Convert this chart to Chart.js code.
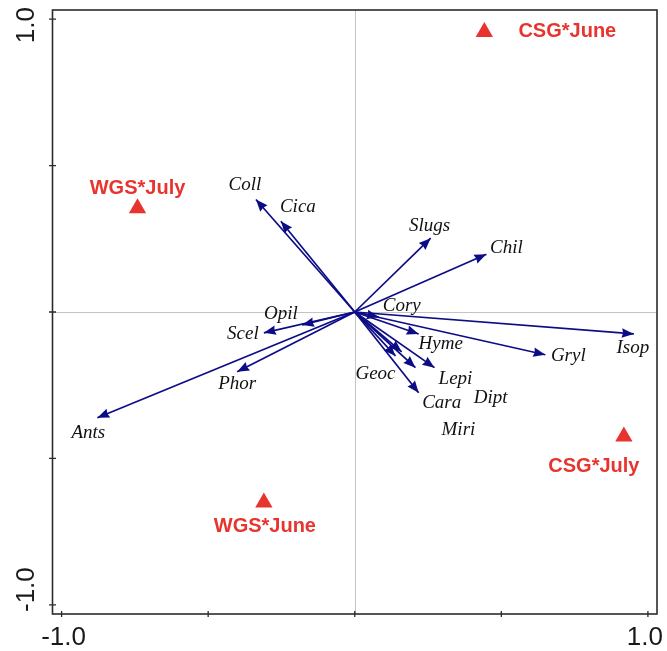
<!DOCTYPE html>
<html>
<head>
<meta charset="utf-8">
<script src="https://cdn.jsdelivr.net/npm/chart.js@4.4.1/dist/chart.umd.min.js"></script>
<style>
  html, body { margin: 0; padding: 0; background: #ffffff; }
  #wrap { width: 667px; height: 651px; }
</style>
</head>
<body>
<div id="wrap"><canvas id="biplot"></canvas></div>
<script>
// Species scores (arrow tips) on the first two ordination axes
const species = ['Coll', 'Cica', 'Slugs', 'Chil', 'Cory', 'Isop', 'Gryl', 'Hyme', 'Dipt',
                 'Geoc', 'Miri', 'Lepi', 'Cara', 'Opil', 'Scel', 'Phor', 'Ants'];
const speciesAxis1 = [-0.337, -0.252, 0.259, 0.449, 0.082, 0.952, 0.650, 0.218, 0.160,
                      0.139, 0.207, 0.272, 0.218, -0.180, -0.310, -0.401, -0.878];
const speciesAxis2 = [0.384, 0.310, 0.252, 0.197, -0.017, -0.075, -0.146, -0.075, -0.136,
                      -0.150, -0.190, -0.190, -0.276, -0.044, -0.071, -0.204, -0.361];

// Treatment centroids
const treatments = ['CSG*June', 'WGS*July', 'CSG*July', 'WGS*June'];
const treatAxis1 = [0.442, -0.741, 0.918, -0.310];
const treatAxis2 = [0.956, 0.354, -0.425, -0.650];

// Axis ticks
const tickValues = [-1.0, -0.5, 0, 0.5, 1.0];
const tickLabels = ['-1.0', '', '', '', '1.0'];

// Label placement relative to each mark (pixels)
const speciesLabelOffset = {
  Coll: [-11, -15], Cica: [17, -14], Slugs: [-1, -12], Chil: [20, -6], Cory: [23, -11],
  Isop: [-1, 14], Gryl: [23, 1], Hyme: [22, 10], Dipt: [89, 46], Geoc: [-20, 18],
  Miri: [43, 62], Lepi: [21, 11], Cara: [23, 10], Opil: [-21, -11], Scel: [-21, 1],
  Phor: [0, 12], Ants: [-9, 15]
};
const treatLabelOffset = {
  'CSG*June': [83, 0], 'WGS*July': [0, -20], 'CSG*July': [-30, 30], 'WGS*June': [1, 24]
};

const ARROW = '#0c0c86';
const RED = '#e8342e';
const AXIS_MIN = -1.031, AXIS_MAX = 1.031;

const arrowSets = species.map((name, i) => ({
  type: 'line',
  label: name,
  data: [{ x: 0, y: 0 }, { x: speciesAxis1[i], y: speciesAxis2[i] }],
  borderColor: ARROW,
  borderWidth: 1.7,
  pointRadius: 0,
  fill: false,
  order: 2
}));

const treatSet = {
  type: 'scatter',
  label: 'treatments',
  data: treatments.map((t, i) => ({ x: treatAxis1[i], y: treatAxis2[i] })),
  pointStyle: 'triangle',
  pointRadius: 10,
  backgroundColor: RED,
  borderColor: RED,
  borderWidth: 0,
  order: 1
};

// Frame, reference lines, ticks and tick labels
const framePlugin = {
  id: 'frame',
  beforeDatasetsDraw(chart) {
    const { ctx, chartArea: a, scales: { x, y } } = chart;
    ctx.save();
    ctx.strokeStyle = '#c4c4c4';
    ctx.lineWidth = 1;
    const x0 = Math.round(x.getPixelForValue(0)) + 0.5;
    const y0 = Math.round(y.getPixelForValue(0)) + 0.5;
    ctx.beginPath();
    ctx.moveTo(x0, a.top); ctx.lineTo(x0, a.bottom);
    ctx.moveTo(a.left, y0); ctx.lineTo(a.right, y0);
    ctx.stroke();
    ctx.restore();
  },
  afterDraw(chart) {
    const { ctx, chartArea: a, scales: { x, y } } = chart;
    ctx.save();
    ctx.strokeStyle = '#2b2b2b';
    ctx.lineWidth = 1.6;
    ctx.strokeRect(a.left, a.top, a.right - a.left, a.bottom - a.top);
    ctx.lineWidth = 1.3;
    ctx.beginPath();
    tickValues.forEach(v => {
      const px = x.getPixelForValue(v);
      ctx.moveTo(px, a.bottom - 3); ctx.lineTo(px, a.bottom + 3);
      const py = y.getPixelForValue(v);
      ctx.moveTo(a.left - 3.5, py); ctx.lineTo(a.left + 3.5, py);
    });
    ctx.stroke();

    ctx.fillStyle = '#1a1a1a';
    ctx.font = '26px "Liberation Sans", Arial, sans-serif';
    ctx.textBaseline = 'middle';
    ctx.textAlign = 'center';
    tickValues.forEach((v, i) => {
      const t = tickLabels[i];
      if (!t) return;
      const w = ctx.measureText(t).width;
      // bottom axis
      let cx = x.getPixelForValue(v);
      cx = Math.min(Math.max(cx, w / 2 + 2), chart.width - w / 2 - 6);
      ctx.fillText(t, cx + 2, a.bottom + 24);
      // left axis, rotated
      let cy = y.getPixelForValue(v);
      cy = Math.min(Math.max(cy, a.top - 3 + w / 2), a.bottom - 2 - w / 2);
      ctx.save();
      ctx.translate(27, cy);
      ctx.rotate(-Math.PI / 2);
      ctx.fillText(t, 0, 0);
      ctx.restore();
    });
    ctx.restore();
  }
};

// Arrowheads plus species and treatment labels
const markPlugin = {
  id: 'marks',
  afterDatasetsDraw(chart) {
    const { ctx, scales: { x, y } } = chart;
    const ox = x.getPixelForValue(0), oy = y.getPixelForValue(0);
    ctx.save();
    ctx.fillStyle = ARROW;
    species.forEach((name, i) => {
      const tx = x.getPixelForValue(speciesAxis1[i]);
      const ty = y.getPixelForValue(speciesAxis2[i]);
      const ang = Math.atan2(ty - oy, tx - ox);
      const len = 12, half = 4.8;
      ctx.save();
      ctx.translate(tx, ty);
      ctx.rotate(ang);
      ctx.beginPath();
      ctx.moveTo(0, 0);
      ctx.lineTo(-len, -half);
      ctx.lineTo(-len * 0.9, 0);
      ctx.lineTo(-len, half);
      ctx.closePath();
      ctx.fill();
      ctx.restore();
    });

    ctx.fillStyle = '#111111';
    ctx.font = 'italic 19px "Liberation Serif", "Times New Roman", serif';
    ctx.textAlign = 'center';
    ctx.textBaseline = 'middle';
    species.forEach((name, i) => {
      const off = speciesLabelOffset[name] || [0, 0];
      const tx = x.getPixelForValue(speciesAxis1[i]);
      const ty = y.getPixelForValue(speciesAxis2[i]);
      ctx.fillText(name, tx + off[0], ty + off[1]);
    });

    ctx.fillStyle = RED;
    ctx.font = 'bold 20px "Liberation Sans", Arial, sans-serif';
    treatments.forEach((name, i) => {
      const off = treatLabelOffset[name] || [0, 0];
      const tx = x.getPixelForValue(treatAxis1[i]);
      const ty = y.getPixelForValue(treatAxis2[i]);
      ctx.fillText(name, tx + off[0], ty + off[1]);
    });
    ctx.restore();
  }
};

new Chart(document.getElementById('biplot'), {
  data: { datasets: [...arrowSets, treatSet] },
  options: {
    responsive: true,
    maintainAspectRatio: false,
    animation: false,
    layout: { padding: { left: 52.5, right: 8, top: 8, bottom: 37 } },
    plugins: { legend: { display: false }, tooltip: { enabled: false } },
    scales: {
      x: { type: 'linear', min: AXIS_MIN, max: AXIS_MAX, display: false },
      y: { type: 'linear', min: AXIS_MIN, max: AXIS_MAX, display: false }
    }
  },
  plugins: [framePlugin, markPlugin]
});
</script>
</body>
</html>
